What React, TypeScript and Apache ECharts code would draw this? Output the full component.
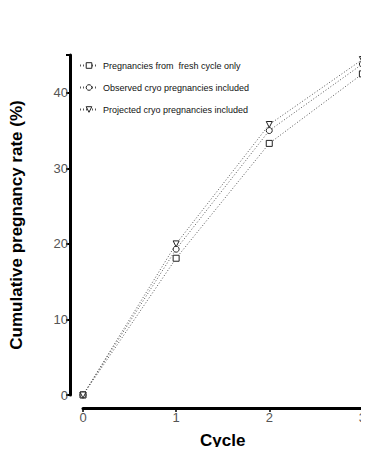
import React, { useEffect, useRef } from "react";
import * as echarts from "echarts";

const cycles = [0, 1, 2, 3];
const freshOnly = [0, 18.1, 33.3, 42.5];
const observedCryo = [0, 19.3, 35.0, 43.8];
const projectedCryo = [0, 20.0, 35.8, 44.4];
const seriesNames = [
  "Pregnancies from  fresh cycle only",
  "Observed cryo pregnancies included",
  "Projected cryo pregnancies included",
];
const yTicks = [0, 10, 20, 30, 40];

const FONT = "'Liberation Sans', Arial, sans-serif";

export default function App() {
  const ref = useRef<HTMLDivElement>(null);
  useEffect(() => {
    if (!ref.current) return;
    const chart = echarts.init(ref.current, undefined, { renderer: "svg" });
    const mk = (name: string, vals: number[], symbol: string, rotate: number) => ({
      name,
      type: "line",
      data: cycles.map((c, i) => [c, vals[i]]),
      symbol,
      symbolSize: 6,
      symbolRotate: rotate,
      showAllSymbol: true,
      lineStyle: { color: "#555", width: 1, type: [1, 2] },
      itemStyle: { color: "#fff", borderColor: "#222", borderWidth: 1 },
    });
    chart.setOption({
      animation: false,
      textStyle: { fontFamily: FONT },
      legend: {
        orient: "vertical",
        left: 74,
        top: 56,
        itemWidth: 18,
        itemHeight: 7,
        itemGap: 13,
        itemStyle: { color: "#fff", borderColor: "#222", borderWidth: 1 },
        textStyle: { fontSize: 9, color: "#111", fontFamily: FONT },
        data: seriesNames,
      },
      grid: { left: 82, right: 3.5, top: 55, bottom: 60, containLabel: false },
      xAxis: {
        type: "value",
        min: 0,
        max: 3,
        interval: 1,
        offset: 13,
        name: "Cycle",
        nameLocation: "middle",
        nameGap: 24,
        nameTextStyle: { fontSize: 17, fontWeight: "bold", color: "#000", fontFamily: FONT },
        axisLine: { onZero: false, lineStyle: { color: "#000", width: 3 } },
        axisTick: { length: 4, lineStyle: { color: "#000", width: 1.5 } },
        axisLabel: { fontSize: 13, color: "#555", margin: 3, fontFamily: FONT },
        splitLine: { show: false },
      },
      yAxis: {
        type: "value",
        min: 0,
        max: 45,
        interval: 10,
        offset: 13,
        name: "Cumulative pregnancy rate (%)",
        nameLocation: "middle",
        nameGap: 45,
        nameTextStyle: { fontSize: 17, fontWeight: "bold", color: "#000", fontFamily: FONT },
        axisLine: { onZero: false, lineStyle: { color: "#000", width: 3 } },
        axisTick: { length: 4, lineStyle: { color: "#000", width: 2 } },
        axisLabel: {
          fontSize: 13,
          color: "#555",
          margin: 2,
          fontFamily: FONT,
          formatter: (v: number) => (yTicks.includes(v) ? String(v) : ""),
        },
        splitLine: { show: false },
      },
      series: [
        mk(seriesNames[0], freshOnly, "rect", 0),
        mk(seriesNames[1], observedCryo, "circle", 0),
        mk(seriesNames[2], projectedCryo, "triangle", 180),
      ],
    });
    return () => chart.dispose();
  }, []);
  return <div ref={ref} style={{ width: 369, height: 455, margin: -8 }} />;
}
